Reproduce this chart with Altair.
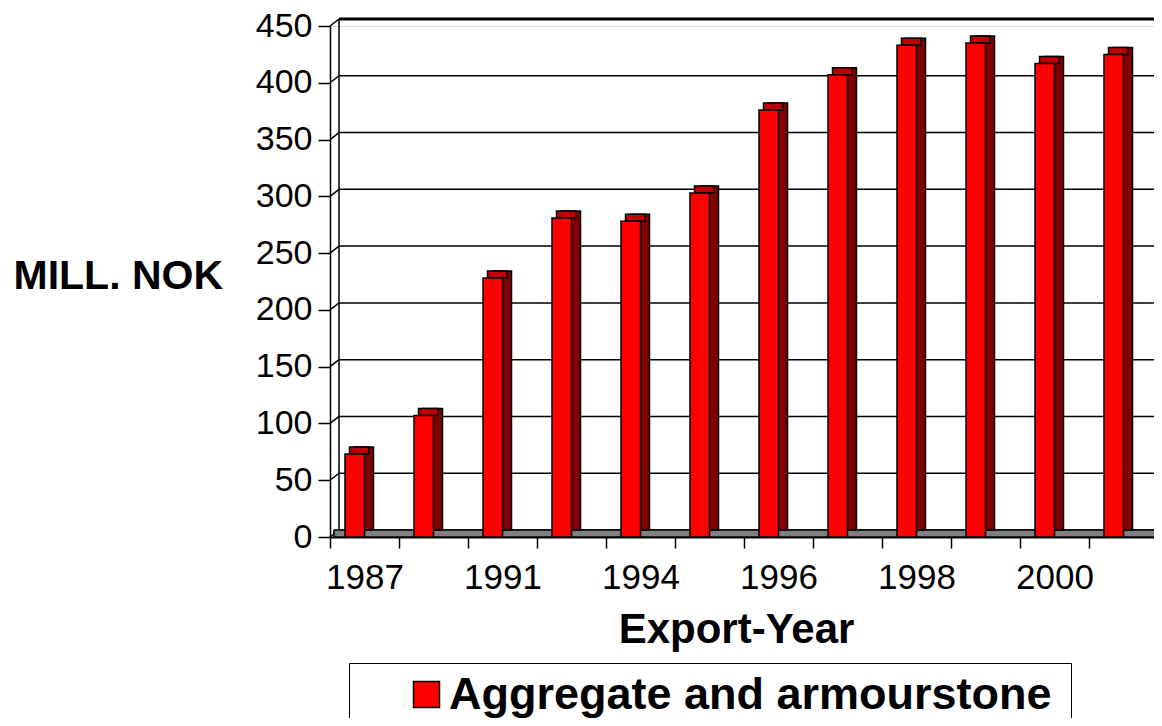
import altair as alt
import pandas as pd

# ---- data ----
years = ["1987", "1989", "1991", "1993", "1994", "1995",
         "1996", "1997", "1998", "1999", "2000", "2001"]
values = [73, 107, 228, 281, 278, 303, 376, 407, 433, 435, 417, 425]
shown_years = ["1987", "1991", "1994", "1996", "1998", "2000"]
series_name = "Aggregate and armourstone"
y_ticks = [0, 50, 100, 150, 200, 250, 300, 350, 400, 450]

bars = pd.DataFrame({"year": years, "value": values, "series": series_name})
grid = pd.DataFrame({"value": y_ticks})
floor = pd.DataFrame({"value": [0]})
wall = pd.DataFrame({"value": [0], "top": [450]})

FONT = "Liberation Sans"
DEPTH_X = 9
DEPTH_Y = 7
BAR_W = 19.5

yscale = alt.Scale(domain=[0, 450], nice=False, zero=True)
shown_js = "[" + ",".join("'%s'" % s for s in shown_years) + "]"

yaxis = alt.Axis(
    title="MILL. NOK", titleAngle=0, titleAlign="left", titleBaseline="alphabetic",
    titleX=-317, titleY=262, titleFont=FONT, titleFontSize=41, titleFontWeight="bold",
    titleColor="black", values=y_ticks, labelFont=FONT, labelFontSize=34,
    labelColor="black", labelPadding=6, tickSize=12, tickColor="black", tickWidth=1.5,
    domainColor="black", domainWidth=1.5, grid=False,
)
xscale = alt.Scale(range=[0, 828], paddingInner=0, paddingOuter=0)
xaxis = alt.Axis(
    title="Export-Year", labelExpr="indexof(%s, datum.label) >= 0 ? datum.label : ''" % shown_js,
    labelAngle=0, labelOverlap=False, labelFont=FONT, labelFontSize=35, labelColor="black",
    labelPadding=12, tickSize=11, tickBand="extent", tickColor="black", tickWidth=1.5,
    domainColor="black", domainWidth=2, grid=False,
    titleFont=FONT, titleFontSize=42, titleFontWeight="bold", titleColor="black",
    titleX=406, titleY=105, titleBaseline="alphabetic",
)

Y = lambda: alt.Y("value:Q", scale=yscale, axis=yaxis)
X = lambda: alt.X("year:N", sort=years, scale=xscale, axis=xaxis)

# back wall gridlines
wall_grid = alt.Chart(grid).mark_rule(color="black", yOffset=-DEPTH_Y).encode(
    y=Y(), x=alt.value(DEPTH_X), x2=alt.value(850),
    strokeWidth=alt.condition("datum.value == 450", alt.value(3), alt.value(1.5)),
)
# connectors from front ticks to back wall
connectors = alt.Chart(grid).mark_rule(color="black", strokeWidth=1.5, y2Offset=-DEPTH_Y).encode(
    y=Y(), y2=alt.Y2("value"), x=alt.value(0), x2=alt.value(DEPTH_X),
)
# back wall left edge
wall_edge = alt.Chart(wall).mark_rule(color="black", strokeWidth=1.5,
                                      yOffset=-DEPTH_Y, y2Offset=-DEPTH_Y).encode(
    y=Y(), y2=alt.Y2("top"), x=alt.value(DEPTH_X),
)
# floor
floor_l = alt.Chart(floor).mark_rect(fill="#808080", stroke="black", strokeWidth=1.5,
                                     yOffset=-DEPTH_Y, y2Offset=0).encode(
    y=Y(), y2=alt.Y2("value"), x=alt.value(4), x2=alt.value(832),
)
# bar side (depth)
side = alt.Chart(bars).mark_bar(width=BAR_W, xOffset=-BAR_W / 2 + DEPTH_X,
                                yOffset=-DEPTH_Y, y2Offset=-DEPTH_Y,
                                color="#800000", stroke="black", strokeWidth=1.5).encode(
    x=X(), y=Y(),
)
# bar top
top = alt.Chart(bars).mark_bar(width=BAR_W, xOffset=-BAR_W / 2 + DEPTH_X / 2,
                               yOffset=-DEPTH_Y, y2Offset=0,
                               color="#C00000", stroke="black", strokeWidth=1.5).encode(
    x=X(), y=Y(), y2=alt.Y2("value"),
)
# bar front
front = alt.Chart(bars).mark_bar(width=BAR_W, xOffset=-BAR_W / 2,
                                 stroke="black", strokeWidth=1.5, opacity=1).encode(
    x=X(), y=Y(),
    color=alt.Color("series:N", scale=alt.Scale(range=["#FF0000"]),
                    legend=alt.Legend(
                        title="\u00a0", titleOrient="right", titlePadding=10,
                        titleFontSize=10,
                        orient="none", legendX=19, legendY=637,
                        symbolType="square", symbolSize=676, symbolStrokeColor="black",
                        symbolStrokeWidth=1.5, symbolOffset=46, symbolOpacity=1,
                        labelFont=FONT, labelFontSize=45, labelFontWeight="bold",
                        labelColor="black", labelOffset=0, labelLimit=1000,
                        padding=9, strokeColor="black", fillColor="white",
                    )),
)

chart = alt.layer(wall_grid, connectors, wall_edge, floor_l, side, top, front).properties(
    width=824, height=511,
    padding={"left": 322, "top": 18, "right": 0, "bottom": 181},
    autosize=alt.AutoSizeParams(type="none"),
).configure_view(stroke=None).configure_legend(strokeWidth=2).configure(background="white")

chart.save("out.html", embed_options={"renderer": "svg", "actions": False})
